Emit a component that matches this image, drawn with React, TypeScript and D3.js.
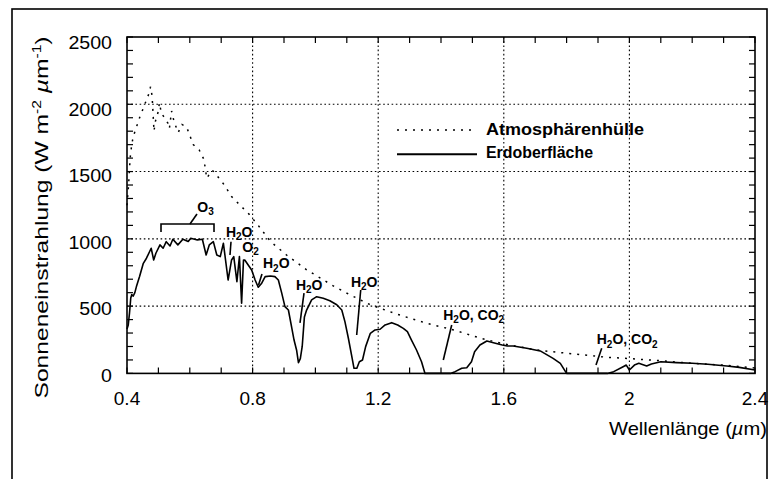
import React from 'react';
import * as d3 from 'd3';

// ---------- data ----------
const xTickValues = [0.4, 0.8, 1.2, 1.6, 2.0, 2.4];
const xTickLabels = ['0.4', '0.8', '1.2', '1.6', '2', '2.4'];
const yTickValues = [0, 500, 1000, 1500, 2000, 2500];
const yTickLabels = ['0', '500', '1000', '1500', '2000', '2500'];
const gridXValues = [0.8, 1.2, 1.6, 2.0];
const gridYValues = [500, 1000, 1500, 2000];

// Atmosphärenhülle (extraterrestrial)
const atmLambda = [0.400, 0.405, 0.410, 0.415, 0.420, 0.430, 0.440, 0.450, 0.460, 0.470, 0.475, 0.480, 0.486, 0.490, 0.500, 0.503, 0.510, 0.520, 0.530, 0.535, 0.542, 0.550, 0.563, 0.575, 0.590, 0.611, 0.630, 0.645, 0.654, 0.665, 0.672, 0.690, 0.710, 0.733, 0.760, 0.790, 0.818, 0.857, 0.908, 0.972, 1.057, 1.105, 1.175, 1.260, 1.355, 1.440, 1.525, 1.600, 1.705, 1.800, 1.928, 2.000, 2.100, 2.200, 2.310, 2.400];
const atmValue = [1250, 1400, 1600, 1700, 1760, 1830, 1900, 1960, 2020, 2080, 2130, 2060, 1800, 1870, 1950, 2010, 1930, 1900, 1860, 1820, 1950, 1870, 1790, 1850, 1830, 1700, 1660, 1590, 1450, 1490, 1510, 1460, 1400, 1315, 1250, 1180, 1100, 980, 880, 770, 650, 590, 510, 440, 372, 323, 262, 219, 174, 150, 120, 110, 94, 75, 60, 40];

// Erdoberfläche (surface)
const surfLambda = [0.400, 0.404, 0.408, 0.412, 0.415, 0.420, 0.425, 0.430, 0.440, 0.452, 0.462, 0.477, 0.485, 0.492, 0.505, 0.515, 0.525, 0.537, 0.546, 0.562, 0.578, 0.595, 0.603, 0.624, 0.640, 0.652, 0.662, 0.675, 0.686, 0.697, 0.707, 0.722, 0.733, 0.740, 0.750, 0.758, 0.765, 0.771, 0.775, 0.786, 0.797, 0.808, 0.818, 0.829, 0.840, 0.857, 0.871, 0.882, 0.893, 0.903, 0.914, 0.924, 0.932, 0.940, 0.946, 0.952, 0.958, 0.965, 0.972, 0.988, 1.004, 1.025, 1.046, 1.068, 1.084, 1.094, 1.105, 1.115, 1.123, 1.132, 1.140, 1.150, 1.160, 1.175, 1.190, 1.206, 1.222, 1.243, 1.262, 1.280, 1.293, 1.306, 1.322, 1.338, 1.349, 1.430, 1.445, 1.466, 1.482, 1.497, 1.507, 1.524, 1.546, 1.567, 1.595, 1.611, 1.630, 1.673, 1.716, 1.757, 1.780, 1.800, 1.930, 1.950, 1.980, 1.990, 2.000, 2.016, 2.030, 2.055, 2.070, 2.100, 2.150, 2.200, 2.250, 2.310, 2.350, 2.400];
const surfValue = [330, 360, 450, 560, 585, 575, 600, 645, 720, 818, 856, 930, 843, 893, 955, 930, 979, 947, 997, 955, 997, 980, 1004, 992, 997, 880, 955, 979, 880, 868, 967, 694, 843, 868, 682, 868, 521, 843, 843, 806, 769, 694, 640, 670, 719, 724, 719, 694, 595, 496, 471, 347, 248, 174, 80, 110, 200, 420, 471, 546, 570, 558, 540, 510, 471, 385, 261, 137, 38, 38, 87, 100, 199, 298, 323, 328, 360, 377, 360, 335, 310, 248, 174, 87, 0, 0, 13, 38, 42, 87, 161, 211, 241, 228, 211, 204, 204, 187, 167, 112, 75, 0, 0, 13, 50, 62, 25, 62, 75, 55, 70, 87, 80, 75, 68, 55, 45, 25];

// Absorption annotations (label anchor in data units)
const annLabels = ['O3', 'H2O', 'O2', 'H2O', 'H2O', 'H2O', 'H2O, CO2', 'H2O, CO2'];
const annLambda = [0.624, 0.715, 0.767, 0.833, 0.938, 1.113, 1.407, 1.896];
const annValue = [1200, 1015, 905, 780, 620, 645, 397, 216];
// leader lines [l1, v1, l2, v2]
const leaders = [
  [0.7312, 978, 0.7280, 880],
  [0.8299, 739, 0.8188, 657],
  [0.9637, 597, 0.9510, 375],
  [1.1443, 620, 1.1315, 285],
  [1.4341, 360, 1.4073, 100],
  [1.9118, 187, 1.8936, 62],
  [0.6006, 1110, 0.6229, 1185],
];
// O3 bracket: [lStart, lEnd, value, tickBottomValue]
const o3Bracket = [0.5083, 0.6771, 1110, 1051];

const legendLabels = ['Atmosphärenhülle', 'Erdoberfläche'];

// ---------- helpers ----------
const FONT = '"Liberation Sans", Arial, Helvetica, sans-serif';

function Chem({ label, x, y }: { label: string; x: number; y: number }) {
  const parts: { t: string; sub: boolean }[] = [];
  const re = /([A-Za-z][0-9])|./g;
  let buf = '';
  for (let i = 0; i < label.length; i++) {
    const ch = label[i];
    if (/[0-9]/.test(ch) && i > 0 && /[A-Za-z]/.test(label[i - 1])) {
      if (buf) parts.push({ t: buf, sub: false });
      buf = '';
      parts.push({ t: ch, sub: true });
    } else buf += ch;
  }
  if (buf) parts.push({ t: buf, sub: false });
  void re;
  let prevSub = false;
  return (
    <text x={x} y={y} fontFamily={FONT} fontWeight="bold" fontSize={14} fill="#000" style={{ whiteSpace: 'pre' }}>
      {parts.map((p, i) => {
        let dy = 0;
        if (p.sub && !prevSub) dy = 3.5;
        if (!p.sub && prevSub) dy = -3.5;
        prevSub = p.sub;
        return (
          <tspan key={i} dy={dy} fontSize={p.sub ? 10 : 14}>
            {p.t}
          </tspan>
        );
      })}
    </text>
  );
}

export default function App() {
  const W = 769;
  const H = 479;
  const left = 127, right = 755, top = 37, bottom = 373.4;

  const x = d3.scaleLinear().domain([0.4, 2.4]).range([left, right]);
  const y = d3.scaleLinear().domain([0, 2500]).range([bottom, top]);
  const yLab = d3.scaleLinear().domain([0, 2500]).range([381.7, 49.3]);

  const line = d3
    .line<[number, number]>()
    .x((d) => x(d[0]))
    .y((d) => y(d[1]));

  const atmPts: [number, number][] = atmLambda.map((l, i) => [l, atmValue[i]]);
  const surfPts: [number, number][] = surfLambda.map((l, i) => [l, surfValue[i]]);

  const minorX = d3.range(0, 21).map((i) => 0.4 + i * 0.1);
  const minorY = d3.range(0, 26).map((i) => i * 100);

  const gridStyle = { stroke: '#000', strokeWidth: 1.1, strokeDasharray: '1.6,2.6' };

  return (
    <svg
      width={W}
      height={H}
      style={{ position: 'absolute', left: 0, top: 0, background: '#fff' }}
      xmlns="http://www.w3.org/2000/svg"
    >
      <rect x={0} y={0} width={W} height={H} fill="#fff" />
      {/* outer frame */}
      <rect x={12} y={9} width={755} height={490} fill="none" stroke="#000" strokeWidth={1.6} />

      {/* grid */}
      {gridXValues.map((g) => (
        <line key={'gx' + g} x1={x(g)} x2={x(g)} y1={top} y2={bottom} {...gridStyle} />
      ))}
      {gridYValues.map((g) => (
        <line key={'gy' + g} x1={left} x2={right} y1={y(g)} y2={y(g)} {...gridStyle} />
      ))}

      {/* minor ticks */}
      {minorX.map((t, i) => (
        <g key={'tx' + i}>
          <line x1={x(t)} x2={x(t)} y1={bottom} y2={bottom - 6} stroke="#000" strokeWidth={1.2} />
          <line x1={x(t)} x2={x(t)} y1={top} y2={top + 6} stroke="#000" strokeWidth={1.2} />
        </g>
      ))}
      {minorY.map((t, i) => (
        <g key={'ty' + i}>
          <line x1={left} x2={left + 6} y1={y(t)} y2={y(t)} stroke="#000" strokeWidth={1.2} />
          <line x1={right} x2={right - 6} y1={y(t)} y2={y(t)} stroke="#000" strokeWidth={1.2} />
        </g>
      ))}

      {/* plot frame */}
      <rect x={left} y={top} width={right - left} height={bottom - top} fill="none" stroke="#000" strokeWidth={1.6} />

      {/* series */}
      <path d={line(atmPts) || ''} fill="none" stroke="#000" strokeWidth={1.5} strokeDasharray="2,6" />
      <path d={line(surfPts) || ''} fill="none" stroke="#000" strokeWidth={1.6} strokeLinejoin="round" />

      {/* tick labels */}
      {xTickValues.map((t, i) => (
        <text key={'xl' + i} x={x(t)} y={405} textAnchor="middle" fontFamily={FONT} fontSize={19} fill="#000">
          {xTickLabels[i]}
        </text>
      ))}
      {yTickValues.map((t, i) => (
        <text
          key={'yl' + i}
          x={112}
          y={yLab(t)}
          textAnchor="end"
          fontFamily={FONT}
          fontSize={18}
          fill="#000"
          textLength={yTickLabels[i].length * 10.9}
          lengthAdjust="spacingAndGlyphs"
        >
          {yTickLabels[i]}
        </text>
      ))}

      {/* axis titles */}
      <text x={609} y={435} fontFamily={FONT} fontSize={19} fill="#000" textLength={158} lengthAdjust="spacingAndGlyphs" style={{ whiteSpace: 'pre' }}>
        <tspan>{'Wellenlänge ('}</tspan>
        <tspan fontStyle="italic">{'µ'}</tspan>
        <tspan>{'m)'}</tspan>
      </text>
      <text
        transform="translate(48,217.5) rotate(-90)"
        x={0}
        y={0}
        textAnchor="middle"
        fontFamily={FONT}
        fontSize={19}
        fill="#000"
        textLength={362}
        lengthAdjust="spacingAndGlyphs"
        style={{ whiteSpace: 'pre' }}
      >
        <tspan>{'Sonneneinstrahlung (W m'}</tspan>
        <tspan dy={-7} fontSize={12}>{'-2'}</tspan>
        <tspan dy={7}>{' '}</tspan>
        <tspan fontStyle="italic">{'µ'}</tspan>
        <tspan>{'m'}</tspan>
        <tspan dy={-7} fontSize={12}>{'-1'}</tspan>
        <tspan dy={7}>{')'}</tspan>
      </text>

      {/* legend */}
      <line x1={397} x2={477} y1={130} y2={130} stroke="#000" strokeWidth={1.5} strokeDasharray="2,6" />
      <line x1={397} x2={477} y1={154.3} y2={154.3} stroke="#000" strokeWidth={2} />
      <text x={486} y={135} fontFamily={FONT} fontWeight="bold" fontSize={16} fill="#000" textLength={158} lengthAdjust="spacingAndGlyphs">
        {legendLabels[0]}
      </text>
      <text x={486} y={157.5} fontFamily={FONT} fontWeight="bold" fontSize={16} fill="#000" textLength={107} lengthAdjust="spacingAndGlyphs">
        {legendLabels[1]}
      </text>

      {/* annotations */}
      {annLabels.map((lab, i) => (
        <Chem key={'an' + i} label={lab} x={x(annLambda[i])} y={y(annValue[i])} />
      ))}
      {leaders.map((l, i) => (
        <line key={'ld' + i} x1={x(l[0])} y1={y(l[1])} x2={x(l[2])} y2={y(l[3])} stroke="#000" strokeWidth={1.6} />
      ))}
      <path
        d={`M${x(o3Bracket[0])},${y(o3Bracket[3])}V${y(o3Bracket[2])}H${x(o3Bracket[1])}V${y(o3Bracket[3])}`}
        fill="none"
        stroke="#000"
        strokeWidth={1.6}
      />
    </svg>
  );
}
